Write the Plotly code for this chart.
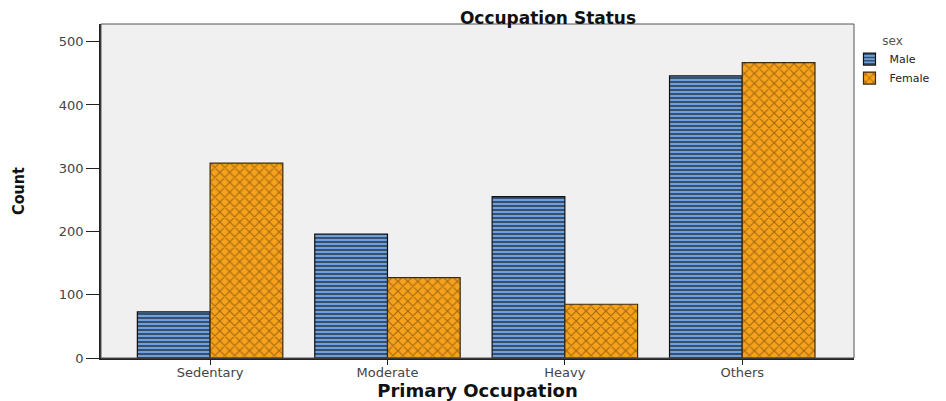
import plotly.graph_objects as go

categories = ["Sedentary", "Moderate", "Heavy", "Others"]
male = [73, 196, 255, 446]
female = [308, 127, 85, 467]
y_ticks = [0, 100, 200, 300, 400, 500]

# page body adds an 8px offset, so the figure is sized to fit the 946x401 window
W, H = 938, 393

fig = go.Figure()
fig.add_trace(go.Bar(
    x=categories, y=male, name="Male",
    marker=dict(color="#6fa0dc", line=dict(color="#111111", width=1.2),
                pattern=dict(shape="-", fgcolor="#000000", size=4, solidity=0.5)),
))
fig.add_trace(go.Bar(
    x=categories, y=female, name="Female",
    marker=dict(color="#f7a21b", line=dict(color="#3a2a10", width=1.2),
                pattern=dict(shape="x", fgcolor="#4a2e08", size=7, solidity=0.3)),
))

fig.update_layout(
    width=W, height=H,
    barmode="group", bargap=0.18, bargroupgap=0,
    paper_bgcolor="white", plot_bgcolor="#f0f0f0",
    margin=dict(l=93, r=92, t=16, b=43, autoexpand=False),
    font=dict(family="DejaVu Sans", size=11, color="#333333"),
    title=dict(text="<b>Occupation Status</b>", x=540/W, xanchor="center",
               y=0.99, yanchor="top",
               font=dict(family="DejaVu Sans", size=17, color="#111111")),
    xaxis=dict(
        range=[-0.615, 3.63], showline=True, linecolor="#222222", linewidth=1.5,
        ticks="outside", ticklen=5, tickcolor="#222222", mirror=False, automargin=False,
        ticklabelstandoff=-3,
        tickfont=dict(family="DejaVu Sans", size=13, color="#444444"),
        title=dict(text="<b>Primary Occupation</b>", standoff=2,
                   font=dict(family="DejaVu Sans", size=18, color="#111111")),
    ),
    yaxis=dict(
        range=[0, 528], tickvals=y_ticks, showgrid=False, zeroline=False,
        showline=True, linecolor="#222222", linewidth=1.5, automargin=False,
        ticks="outside", ticklen=13, tickcolor="#222222",
        tickfont=dict(family="DejaVu Sans", size=13, color="#444444"),
        title=dict(text="<b>Count</b>", standoff=30,
                   font=dict(family="DejaVu Sans Condensed, Liberation Sans", size=16, color="#111111")),
    ),
    legend=dict(
        x=0.994, xanchor="left", y=0.985, yanchor="top",
        title=dict(text="sex", side="top center", font=dict(size=12, color="#555555")),
        font=dict(family="DejaVu Sans", size=11, color="#222222"),
        itemwidth=30, tracegroupgap=0, bgcolor="rgba(0,0,0,0)",
    ),
    shapes=[dict(type="rect", xref="paper", yref="paper", x0=0, y0=0, x1=1, y1=1,
                 line=dict(color="#555555", width=1), layer="above")],
)

fig.write_html("out.html")
